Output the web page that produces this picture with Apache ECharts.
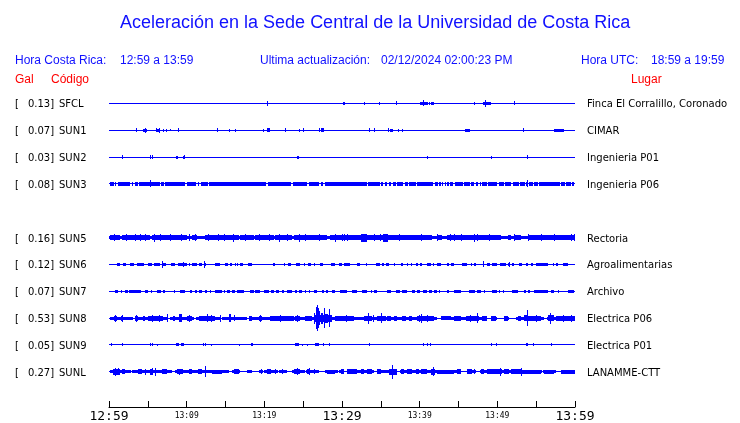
<!DOCTYPE html>
<html><head><meta charset="utf-8">
<script src="https://cdn.jsdelivr.net/npm/echarts@6/dist/echarts.min.js"></script>
<style>html,body{margin:0;padding:0;background:#fff}#c{width:740px;height:423px}</style>
</head><body><div id="c"></div>
<script>
// Row order (null = empty row, SUN4 not shown)
const codes  = ['SFCL','SUN1','SUN2','SUN3',null,'SUN5','SUN6','SUN7','SUN8','SUN9','SUNL'];
const gal    = [0.13,0.07,0.03,0.08,null,0.16,0.12,0.07,0.53,0.05,0.27];
const places = ['Finca El Corralillo, Coronado','CIMAR','Ingenieria P01','Ingenieria P06',null,
                'Rectoria','Agroalimentarias','Archivo','Electrica P06','Electrica P01','LANAMME-CTT'];
const timeLabels = ['12:59','13:09','13:19','13:29','13:39','13:49','13:59'];

// Trace envelopes: [startMinute, endMinute, halfAmplitude]
const SFCL = [[20.3,20.3,2],[30.1,30.4,1],[32.8,32.8,1],[34.75,34.95,1],[36.9,36.9,1.5],[40.0,41.1,1],[40.4,40.4,2.5],
  [41.25,41.25,1],[41.5,41.8,1],[47.0,47.0,1],[48.2,49.2,1],[48.4,48.4,3],[52.2,52.2,1.5]];
const SUN1 = [[3.5,3.5,1.5],[4.4,4.9,1],[4.6,4.6,2],[6.0,6.0,1.5],[6.2,6.5,1],[6.45,6.45,2],[6.9,7.1,1],[7.4,7.4,1],
  [7.8,7.8,0.5],[8.9,8.9,1.5],[13.85,13.85,1.5],[15.4,15.4,1],[16.2,16.2,1],[19.8,19.8,1],[20.4,20.7,1.2],[22.6,22.6,1.5],
  [24.4,24.4,1],[25.0,25.0,1.5],[27.0,27.0,1.5],[27.3,27.7,1.2],[33.5,33.5,1.5],[34.1,34.1,1.5],[35.9,35.9,1.5],
  [36.2,36.6,1],[37.2,37.4,1],[37.7,37.7,1],[45.8,46.5,1],[53.3,53.3,1.5],[57.3,58.6,1]];
const SUN2 = [[1.7,1.7,1.5],[5.3,5.3,1.5],[5.6,5.6,1.5],[8.6,8.9,1],[9.5,9.5,1],[9.7,9.7,1.5],[24.2,24.45,1],
  [41.0,41.0,1],[49.2,49.2,1],[53.8,53.8,1.5]];
const SUN3 = [[0.13,0.6,1.5],[0.77,0.95,1.5],[1.12,2.71,1.5],[2.92,3.1,1.5],[3.35,3.7,1.5],[3.87,6.58,1.5],[5.3,5.3,3],
  [6.71,7.05,1.5],[7.22,9.8,1.5],[9.98,11.18,1.5],[11.44,11.61,1.5],[11.87,12.73,1.5],[12.9,20.21,1.5],[20.47,23.43,1.5],
  [23.65,25.5,1.5],[25.71,27.09,1.5],[27.35,27.6,1.5],[27.78,30.44,1.5],[29.81,33.16,1.5],[33.33,34.88,1.5],[35.05,35.31,1.5],
  [35.48,35.83,1.5],[36.09,36.26,1.5],[36.51,36.94,1.5],[37.12,37.8,1.5],[38.06,38.49,1.5],[38.66,39.52,1.5],[39.7,41.76,1.5],
  [41.93,42.36,1.5],[42.53,42.71,1.5],[42.88,43.05,1.5],[43.22,43.39,1.5],[43.57,43.74,1.5],[43.91,44.34,1.5],[44.6,45.54,1.5],
  [45.72,46.49,1.5],[46.66,47.01,1.5],[47.26,47.52,1.5],[47.78,47.87,1.5],[48.04,48.64,1.5],[48.81,50.02,1.5],[50.27,50.88,1.5],
  [51.05,51.82,1.5],[52.08,52.77,1.5],[52.94,53.54,1.5],[53.71,53.89,1.5],[53.8,53.8,3],[54.06,54.57,1.5],[54.75,55.18,1.5],
  [55.35,58.01,1.5],[58.19,58.7,1.5],[58.87,59.48,1.5],[59.65,59.9,1.5]];
const SUN5 = [[0,60,1.2],
  [0.13,1.42,2],[1.63,5.29,2],[5.5,10.02,2],[10.66,11.31,2],[12.38,16.68,2],[16.9,18.62,2],[18.83,21.2,2],[21.41,23.56,2],
  [23.78,28.08,2],[28.51,30.44,2],[29.81,32.39,2],[33.25,35.31,2],[35.91,41.63,2],[42.28,42.92,2],[43.57,50.45,2],
  [51.31,51.74,2],[52.17,53.03,2],[53.89,60,2],[32.39,33.25,3.5],[35.31,35.91,3.5],
  [0.69,0.69,3],[2.19,2.19,3],[3.35,3.35,3],[3.98,3.98,3],[4.64,4.64,3],[6.58,6.58,3],[7.87,7.87,3],[9.29,9.29,3],
  [10.24,10.24,3],[11.01,11.01,3],[12.73,12.73,3],[14.02,14.02,3],[14.75,14.75,3],[17.54,17.54,3],[19.35,19.35,3],
  [20.55,20.55,3],[22.92,22.92,3],[25.28,25.28,3],[27.0,27.0,3],[30.23,30.23,3],[5.85,5.85,3.5],[15.91,15.91,3.5],
  [21.84,21.84,3.5],[24.42,24.42,3.5],[29.15,29.15,3.5],[30.02,30.02,3],[30.67,30.67,3],[34.11,34.11,3],[34.88,34.88,3],
  [37.33,37.33,3],[40.13,40.13,3],[42.28,42.28,3],[43.91,43.91,3],[44.43,44.43,3],[45.29,45.29,3],[47.44,47.44,3],
  [48.94,48.94,3],[52.17,52.17,3],[53.89,53.89,3],[55.61,55.61,3],[57.33,57.33,3],[59.48,59.48,3],[59.91,59.91,3],[47.01,47.01,3.5]];
const SUN6 = [[0.99,1.42,1],[1.85,2.15,1],[2.71,3.22,1],[3.65,4.56,1],[5.07,5.5,1],[5.85,6.58,1],[6.79,6.79,3],[7.01,7.31,1],
  [8.0,8.51,1],[8.94,10.02,1],[9.59,9.59,2],[10.24,10.49,1],[10.66,11.31,1],[11.65,11.95,1],[12.17,12.17,3],[12.3,12.47,1],
  [13.67,14.32,1],[14.88,15.26,1],[15.61,15.82,1],[16.25,16.25,1],[16.51,16.51,1],[16.9,17.2,1],[17.89,18.4,1],[21.11,21.33,1],
  [22.49,22.7,1],[23.05,23.39,1],[24.12,24.64,1],[25.07,25.07,1],[25.63,26.06,1],[26.36,26.57,1],[27.22,27.52,1],
  [28.64,29.15,1],[29.58,30.01,1],[30.23,30.44,1],[30.32,31.01,1],[31.96,32.3,1],[33.03,33.25,1],[34.32,34.88,1],
  [35.18,35.4,1],[35.61,36.04,1],[36.69,36.69,1],[37.63,37.89,1],[38.41,38.41,1],[38.84,38.84,1],[39.48,39.78,1],
  [40.04,40.34,1],[40.99,41.42,1],[41.76,41.76,1],[42.28,42.79,1],[43.57,43.78,1],[43.99,43.99,1],[44.21,44.43,1],
  [45.5,46.06,1],[46.58,46.58,1],[47.01,47.22,1],[48.21,48.21,2.5],[48.73,49.07,1],[49.37,49.93,1],[50.36,51.09,1],
  [51.31,51.65,1],[51.52,51.52,2],[51.95,52.17,1],[52.81,53.24,1],[53.67,53.89,1],[54.32,54.53,1],[54.96,56.47,1],
  [57.11,57.33,1],[57.54,57.76,1],[58.4,59.05,1]];
const SUN7 = [[0.77,1.12,1],[1.55,1.55,1],[2.06,2.49,1],[2.58,4.13,1],[4.64,5.07,1],[5.42,5.59,1],[6.15,6.71,1],[7.01,7.22,1],
  [8.39,8.39,1],[9.16,9.8,1],[10.45,10.66,1],[11.09,11.31,1],[11.65,11.95,1],[12.38,12.6,1],[12.94,13.16,1],[13.67,14.53,1],
  [14.75,14.96,1],[15.18,15.61,1],[15.82,16.17,1],[16.47,17.33,1],[18.1,18.62,1],[18.83,19.48,1],[19.91,20.55,1],
  [20.85,21.2,1],[21.5,21.93,1],[22.27,22.49,1],[22.92,23.56,1],[23.99,24.21,1],[24.42,24.85,1],[25.2,25.37,1],
  [25.71,25.93,1],[26.36,26.79,1],[27.43,27.65,1],[27.99,28.21,1],[28.72,29.15,1],[29.8,30.67,1],[31.31,31.87,1],
  [32.6,33.16,1],[33.68,33.68,1],[34.11,34.45,1],[35.83,36.34,1],[36.9,37.46,1],[37.76,38.41,1],[39.05,39.35,1],
  [39.61,40.04,1],[40.47,40.99,1],[41.24,41.59,1],[41.85,42.19,1],[42.49,42.49,1],[43.57,43.78,1],[44.43,45.29,1],
  [46.36,47.09,1],[47.44,47.87,1],[48.3,48.3,1],[49.37,49.93,1],[50.23,50.23,1],[50.79,50.79,1],[51.95,52.68,1],
  [53.37,53.67,1],[53.89,54.23,1],[54.75,56.47,1],[56.9,57.33,1],[57.76,57.76,1],[59.05,59.91,1]];
const SUN8 = [[0.13,3.1,1],[3.3,7.6,1],[7.8,11.0,1],[11.2,14.4,1],[14.6,17.8,1],[18.0,25.2,1],[25.4,30.44,1],
  [29.81,42.28,1],[42.71,48.73,1],[49.16,50.02,1],[50.88,51.52,1],[52.38,56.04,1],[56.38,60,1],
  [0.69,0.99,2],[1.55,1.85,2],[3.35,3.78,2],[4.43,4.64,2],[5.07,7.01,2],[8.3,8.51,2],[10.02,10.75,2],[11.61,13.67,2],
  [17.97,18.4,2],[19.26,19.69,2],[20.77,23.78,2],[23.99,24.64,2],[25.28,26.15,2],[29.15,30.44,2],
  [0.8,0.8,3],[1.7,1.7,3],[3.5,3.5,3],[5.6,5.6,3],[6.5,6.5,3],[7.48,7.65,3.5],[9.03,9.37,3.5],[10.3,10.3,3],[12.6,12.6,3.5],
  [13.16,13.16,3],[14.32,14.32,3],[15.39,15.74,3.5],[16.04,16.04,2.5],[19.4,19.4,3],[22.0,22.0,3],[24.2,24.2,3],
  [26.36,28.72,3],[26.36,26.57,5],[26.66,26.66,11],[26.75,26.75,12.5],[26.88,26.88,10],[27.0,27.22,7],[27.35,27.52,5],
  [27.65,27.65,9.5],[27.86,28.21,4],[28.38,28.38,8.5],[28.55,28.72,3],
  [29.81,31.53,2],[32.82,33.89,2],[34.54,35.61,2],[35.83,36.26,2],[36.69,37.12,2],[37.76,38.19,2],[38.62,39.05,2],
  [39.7,41.85,2],[42.71,43.99,1.5],[44.43,45.29,2],[45.93,47.65,2],[48.08,48.73,2],[49.16,49.8,2],[50.88,51.31,2],
  [52.6,53.03,2],[53.37,53.89,2.5],[53.89,55.61,2],[56.47,57.33,2.5],[57.54,60,2],
  [33.33,33.33,5],[35.05,35.05,4.5],[40.13,40.13,4],[47.35,47.35,4.5],[53.76,53.76,8],[56.81,56.81,5],
  [30.5,30.5,3],[34.0,34.0,3],[39.9,39.9,3],[41.0,41.0,3],[46.5,46.5,3],[55.0,55.0,3],[58.5,58.5,3],[59.5,59.5,3]];
const SUN9 = [[0.26,0.43,1],[1.72,1.72,1],[5.29,5.29,1],[5.59,5.59,1],[6.15,6.15,0.5],[8.6,9.03,1],[9.29,9.72,1],
  [12.04,12.04,1],[12.38,12.38,1],[13.16,13.16,0.5],[16.68,16.68,0.5],[18.32,18.58,1],[23.99,24.42,1],[24.85,24.85,0.5],
  [25.5,25.5,0.5],[26.49,27.0,1],[27.52,27.69,1],[28.29,28.51,1],[33.46,33.46,1],[40.38,40.38,1],[40.9,40.9,1],
  [41.33,41.5,1],[49.24,49.24,1],[49.84,49.84,1],[53.67,53.89,1],[54.57,54.57,1],[56.9,56.9,1]];
const SUNL = [[0.13,2.85,1],[3.0,8.08,1],[8.51,15.39,1],[15.82,16.9,1],[17.76,18.4,1],[19.26,19.85,1],[19.97,21.8,1],
  [21.9,22.92,1],[23.56,25.22,1],[25.34,27.0,1],[27.86,29.52,1],[29.64,30.24,1],[30.67,34.11,1],[34.45,37.12,1],
  [37.46,45.29,1],[46.06,47.22,1],[47.78,55.8,1],[55.9,57.54,1],[58.19,60,1],
  [0.56,1.42,2.5],[1.63,2.06,2],[3.78,4.3,2],[5.29,5.72,2.5],[6.79,7.44,2],[8.73,9.59,2],[10.24,10.75,2],[11.52,11.95,2],
  [13.24,14.53,1.5],[16.04,16.68,2],[20.34,20.9,2],[23.78,24.64,2],[25.5,25.93,2],[28.08,29.15,1.5],[29.81,30.24,2],
  [30.67,31.96,2],[32.39,32.82,2],[33.16,33.89,2],[34.54,34.97,2],[36.04,37.03,2.5],[37.55,37.98,2],[38.41,39.05,2],
  [39.48,39.91,2],[40.13,40.99,2],[41.42,41.93,2.5],[42.28,44.43,1.5],[44.86,45.29,2],[46.15,46.79,2],[47.87,48.3,2],
  [48.73,50.66,2],[50.88,51.52,2],[51.74,53.03,2],[53.24,55.61,1.5],[56.04,57.33,1.5],[58.19,60,1.5],
  [0.8,0.8,3.5],[4.64,4.64,2.5],[5.93,5.93,3.5],[12.38,12.38,5],[19.61,19.61,2],[21.41,21.41,2],[22.27,22.27,2],
  [26.36,26.36,2],[36.39,36.39,6.5],[41.67,41.67,4],[47.01,47.01,2],[50.36,50.36,3.5],[53.11,53.11,3.5],
  [1.2,1.2,3],[5.5,5.5,3],[9.0,9.0,2.5],[24.2,24.2,3],[25.7,25.7,3]];
const traces = [SFCL,SUN1,SUN2,SUN3,null,SUN5,SUN6,SUN7,SUN8,SUN9,SUNL];

const ROW = 27;          // y units between traces
const BLUE = '#0000ff';
const items = [];
traces.forEach((tr, i) => {
  if (!tr) return;
  const yv = ROW * (i + 1);
  items.push([0, 60, yv, 0]);
  tr.forEach(s => items.push([s[0], s[1], yv, s[2]]));
});

function rowIndex(v) {
  if (Math.abs(v % ROW) > 1e-6) return -1;
  const i = Math.round(v / ROW) - 1;
  return (i >= 0 && i < codes.length && codes[i]) ? i : -1;
}

const chart = echarts.init(document.getElementById('c'), null, {renderer: 'canvas'});
const hdr = {fontFamily: 'Liberation Sans', fontSize: 12, fontWeight: 'normal', color: '#1010ff'};
const red = {fontFamily: 'Liberation Sans', fontSize: 12, fontWeight: 'normal', color: '#ff0000'};
const mk = (text, left, top, style) => ({text, left, top, padding: 0, textStyle: style});
const lbl = {fontFamily: 'DejaVu Sans', fontSize: 10, color: '#000'};
chart.setOption({
  animation: false,
  title: [
    mk('Aceleración en la Sede Central de la Universidad de Costa Rica', 120, 14,
       {fontFamily: 'Liberation Sans', fontSize: 18, fontWeight: 'normal', color: '#1010ff'}),
    mk('Hora Costa Rica:', 15, 55, hdr), mk('12:59 a 13:59', 120, 55, hdr),
    mk('Ultima actualización:', 260, 55, hdr), mk('02/12/2024 02:00:23 PM', 381, 55, hdr),
    mk('Hora UTC:', 581, 55, hdr), mk('18:59 a 19:59', 651, 55, hdr),
    mk('Gal', 15, 74, red), mk('Código', 51, 74, red), mk('Lugar', 631, 74, red)
  ],
  grid: {left: 109, top: 76, width: 466, height: 333},
  xAxis: {
    type: 'value', min: 0, max: 60, interval: 5, position: 'bottom',
    splitLine: {show: false},
    axisLine: {onZero: false, lineStyle: {color: '#000', width: 1}},
    axisTick: {inside: true, length: 6, lineStyle: {color: '#000'}},
    axisLabel: {
      margin: 2, showMinLabel: true, showMaxLabel: true,
      formatter: v => {
        if (v % 10 !== 0) return '';
        const t = timeLabels[v / 10];
        return v % 30 === 0 ? '{b|' + t + '}' : '{s|' + t + '}';
      },
      rich: {
        b: {fontFamily: 'DejaVu Sans Mono', fontSize: 13, color: '#000', lineHeight: 15},
        s: {fontFamily: 'DejaVu Sans Mono', fontSize: 8, color: '#000', lineHeight: 13}
      }
    }
  },
  yAxis: [{
    type: 'value', min: 0, max: 333, interval: ROW, inverse: true,
    axisLine: {show: false}, axisTick: {show: false}, splitLine: {show: false},
    axisLabel: {
      align: 'left', margin: 94, padding: [4, 0, 0, 0],
      formatter: v => {
        const i = rowIndex(v);
        if (i < 0) return '';
        return '{a|[}{g|' + gal[i].toFixed(2) + ']}{c|' + codes[i] + '}';
      },
      rich: {
        a: Object.assign({width: 13}, lbl),
        g: Object.assign({width: 26, align: 'right'}, lbl),
        c: Object.assign({padding: [0, 0, 0, 5]}, lbl)
      }
    }
  }, {
    type: 'value', min: 0, max: 333, interval: ROW, inverse: true, position: 'right',
    axisLine: {show: false}, axisTick: {show: false}, splitLine: {show: false},
    axisLabel: {
      align: 'left', margin: 12, padding: [4, 0, 0, 0],
      formatter: v => { const i = rowIndex(v); return i < 0 ? '' : '{p|' + places[i] + '}'; },
      rich: {p: lbl}
    }
  }],
  series: [{
    type: 'custom',
    xAxisIndex: 0, yAxisIndex: 0,
    encode: {x: [0, 1], y: 2},
    data: items,
    clip: false,
    renderItem: (params, api) => {
      const t0 = api.value(0), t1 = api.value(1), yv = api.value(2), a = api.value(3);
      const p0 = api.coord([t0, yv - a]);
      const p1 = api.coord([t1, yv + a]);
      const x0 = Math.round(p0[0]);
      const x1 = Math.max(Math.round(p1[0]), x0 + 1);
      const yT = Math.round(Math.min(p0[1], p1[1]));
      const yB = Math.round(Math.max(p0[1], p1[1])) + 1;
      return {type: 'rect', shape: {x: x0, y: yT, width: x1 - x0, height: yB - yT}, style: {fill: BLUE}};
    }
  }]
});
</script></body></html>
